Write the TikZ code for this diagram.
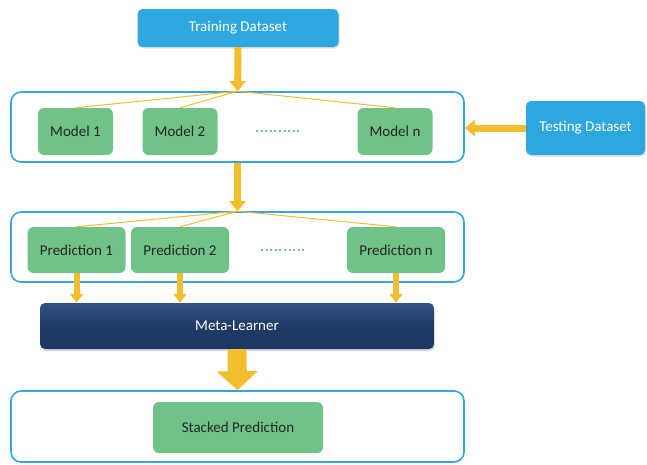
\documentclass[tikz,border=0pt]{standalone}
\usepackage{fontspec}
\setmainfont{Carlito}
\usepackage{xcolor}
\usetikzlibrary{positioning,arrows.meta,shadows}

\definecolor{skyblue}{RGB}{46,166,222}
\definecolor{leafgreen}{RGB}{112,194,136}
\definecolor{framblue}{RGB}{52,166,225}
\definecolor{goldline}{RGB}{242,190,46}
\definecolor{navytop}{RGB}{48,82,132}
\definecolor{navybot}{RGB}{30,55,98}

\begin{document}
\begin{tikzpicture}[x=1pt, y=-1pt]
    \tikzset{
      frame/.style = {rectangle, rounded corners=10pt, minimum width=453pt, minimum height=70pt, inner sep=0pt, draw=framblue, line width=1.6pt, fill=white},
      dataset/.style = {rectangle, rounded corners=5pt, align=center, inner sep=0pt, fill=skyblue, text=white, font=\fontsize{15}{18}\selectfont, drop shadow={opacity=0.25, shadow xshift=1pt, shadow yshift=-1.5pt}},
      model/.style = {rectangle, rounded corners=6pt, minimum width=75pt, minimum height=47pt, inner sep=0pt, fill=leafgreen, text=black!85, font=\fontsize{15}{18}\selectfont},
      pred/.style = {model, minimum width=98pt, minimum height=46pt},
      fan/.style = {goldline, line width=1pt},
      dots/.style = {leafgreen, line width=2pt, dash pattern=on 2pt off 2.6pt},
      arrow/.style = {goldline, line width=7pt, -{Triangle[width=16pt, length=10pt]}},
      smallarrow/.style = {goldline, line width=6pt, -{Triangle[width=13pt, length=9pt]}},
      bigarrow/.style = {goldline, line width=19pt, -{Triangle[width=40pt, length=19pt]}}
    }
    \useasboundingbox (0,0) rectangle (647,464);

    \node (train) [dataset, minimum width=201pt, minimum height=38pt] at (238,28) {Training Dataset};
    \node (test) [dataset, minimum width=119pt, minimum height=54pt] at (585.5,128) {Testing Dataset};

    \node (models) [frame] at (237.5,127) {};
    \node (m1) [model] at (75.5,131.5) {Model 1};
    \node (m2) [model] at (180,131.5) {Model 2};
    \node (mn) [model] at (395,131.5) {Model n};
    \draw [dots] (256,131) -- (300,131);

    \node (preds) [frame] at (237.5,247) {};
    \node (p1) [pred] at (76.5,250) {Prediction 1};
    \node (p2) [pred] at (180,250) {Prediction 2};
    \node (pn) [pred] at (396,250) {Prediction n};
    \draw [dots] (261,249.5) -- (305,249.5);

    \node (meta) [rectangle, rounded corners=5pt, minimum width=394pt, minimum height=46pt, inner sep=0pt, top color=navytop, bottom color=navybot, middle color=navybot!90!navytop, text=white, font=\fontsize{15}{18}\selectfont, drop shadow={opacity=0.3, shadow xshift=1pt, shadow yshift=-2pt}] at (237,326) {Meta-Learner};

    \node (stack) [frame, minimum height=71pt] at (237.5,426.5) {};
    \node (final) [model, minimum width=170pt, minimum height=51pt] at (238,427.5) {Stacked Prediction};

    \draw [fan] (models.north) -- (m1.north);
    \draw [fan] (models.north) -- (m2.north);
    \draw [fan] (models.north) -- (mn.north);
    \draw [fan] (preds.north) -- (p1.north);
    \draw [fan] (preds.north) -- (p2.north);
    \draw [fan] (preds.north) -- (pn.north);

    \draw [arrow] (train) -- (models);
    \draw [arrow] (test.west) -- (test.west -| models.east);
    \draw [arrow] (models.south) -- (preds.north);
    \draw [smallarrow] (p1.south) -- (p1.south |- meta.north);
    \draw [smallarrow] (p2.south) -- (p2.south |- meta.north);
    \draw [smallarrow] (pn.south) -- (pn.south |- meta.north);
    \draw [bigarrow] (meta.south) -- (stack.north);
\end{tikzpicture}
\end{document}
